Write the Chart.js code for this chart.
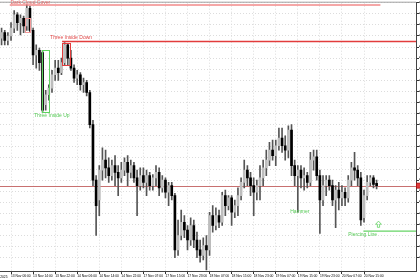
<!DOCTYPE html>
<html><head><meta charset="utf-8">
<style>html,body{margin:0;padding:0;background:#fff;overflow:hidden;width:420px;height:280px}canvas{display:block}</style>
<script src="https://cdn.jsdelivr.net/npm/chart.js@4.4.1/dist/chart.umd.min.js"></script>
</head><body>
<canvas id="c" width="460" height="280" style="width:460px;height:280px"></canvas>
<script>
const openPrices = [4218,4223,4216,4220,4227,4239,4232,4236,4229,4245,
4225,4203,4207,4205,4158,4167,4173,4185,4191,4187,
4196,4212,4200,4191,4182,4185,4176,4178,4169,4140,
4090,4072,4099,4108,4101,4094,4103,4097,4092,4099,
4106,4097,4103,4092,4085,4094,4088,4094,4085,4092,
4097,4083,4090,4079,4085,4076,4027,4040,4052,4045,
4036,4049,4036,4027,4022,4031,4027,4058,4049,4058,
4052,4076,4067,4074,4061,4067,4076,4088,4099,4092,
4085,4079,4085,4092,4101,4108,4117,4112,4121,4128,
4121,4117,4135,4103,4094,4099,4092,4094,4088,4108,
4111,4094,4072,4085,4090,4085,4072,4081,4074,4079,
4074,4090,4101,4099,4092,4056,4076,4088,4092,4087];
const highPrices = [4227,4225,4223,4232,4243,4241,4239,4238,4248,4247,
4227,4212,4209,4207,4171,4176,4189,4198,4198,4200,
4214,4213,4207,4194,4189,4187,4182,4180,4171,4144,
4094,4103,4119,4117,4110,4108,4112,4103,4106,4110,
4112,4108,4106,4099,4101,4101,4099,4097,4095,4103,
4101,4094,4092,4088,4088,4078,4054,4063,4058,4049,
4056,4054,4043,4036,4038,4040,4061,4067,4065,4063,
4079,4081,4076,4076,4072,4083,4092,4108,4103,4097,
4092,4090,4103,4108,4117,4124,4126,4126,4137,4137,
4130,4139,4140,4108,4103,4103,4101,4097,4115,4117,
4117,4099,4094,4094,4094,4090,4085,4088,4085,4083,
4094,4106,4115,4103,4097,4081,4094,4094,4094,4090];
const lowPrices = [4212,4212,4212,4216,4223,4225,4221,4223,4225,4223,
4194,4191,4189,4151,4153,4162,4169,4180,4180,4185,
4194,4194,4189,4178,4176,4171,4169,4166,4137,4085,
4040,4058,4090,4092,4088,4090,4085,4076,4088,4094,
4085,4092,4088,4058,4081,4083,4076,4081,4081,4085,
4076,4079,4074,4067,4072,4020,4022,4036,4038,4027,
4031,4029,4020,4016,4018,4009,4022,4043,4045,4047,
4049,4058,4063,4049,4056,4058,4072,4083,4085,4076,
4058,4072,4072,4085,4094,4103,4108,4103,4117,4115,
4108,4110,4094,4085,4061,4083,4081,4083,4085,4099,
4090,4042,4067,4076,4081,4067,4047,4063,4067,4067,
4070,4085,4090,4085,4049,4052,4072,4085,4083,4082];
const closePrices = [4223,4216,4220,4227,4239,4232,4236,4229,4245,4225,
4203,4207,4196,4153,4167,4173,4185,4191,4187,4196,
4212,4200,4191,4182,4185,4176,4178,4169,4140,4090,
4067,4099,4108,4101,4094,4103,4097,4092,4099,4106,
4097,4103,4092,4085,4094,4088,4094,4085,4092,4097,
4083,4090,4079,4085,4076,4027,4040,4052,4045,4036,
4049,4036,4027,4022,4031,4027,4058,4049,4058,4052,
4076,4067,4074,4061,4067,4076,4088,4099,4092,4085,
4079,4085,4092,4101,4108,4117,4112,4121,4128,4121,
4117,4135,4103,4094,4099,4092,4094,4088,4108,4111,
4094,4072,4085,4090,4085,4072,4081,4074,4079,4074,
4090,4101,4099,4092,4054,4076,4088,4092,4086,4085];
const xTickLabels = ["13 Nov 06:00","13 Nov 14:00","13 Nov 22:00","14 Nov 06:00","14 Nov 14:00","14 Nov 22:00","17 Nov 07:00","17 Nov 15:00","17 Nov 23:00","18 Nov 07:00","18 Nov 15:00","18 Nov 23:00","19 Nov 07:00","19 Nov 15:00","19 Nov 23:00","20 Nov 07:00","20 Nov 15:00"];
const firstAxisLabel = "12 Nov 2025";
const patternNames = ["Dark Cloud Cover","Three Inside Down","Three Inside Up","Hammer","Piercing Line"];
const priceMin = 4008, priceMax = 4250, priceStep = 10;
const currentPrice = 4085;

const slotCount = 132, tickStart = 3, tickEvery = 7;
const categories = Array.from({length: slotCount}, (_, i) => String(i));
const wickData = lowPrices.map((l, i) => [l, highPrices[i]]);
const bodyData = openPrices.map((o, i) => [o, closePrices[i]]);
const bodyColors = openPrices.map((o, i) => closePrices[i] >= o ? '#bdbdbd' : '#000000');

// annotation anchors in data units (category index, price)
const annotations = [
  {kind:'hline', from:2.6, to:120.2, price:4248, color:'rgba(240,120,120,0.65)', width:2},
  {kind:'box', from:7.5, to:9.0, top:4236, bottom:4223, color:'#f29a9a'},
  {kind:'text', text:patternNames[0], at:2.8, price:4252, color:'#e56565'},
  {kind:'hline', from:19.2, to:'end', price:4215, color:'#e23c3c', width:1.5},
  {kind:'box', from:19.2, to:21.8, top:4214, bottom:4194, color:'#e23c3c'},
  {kind:'text', text:patternNames[1], at:15.4, price:4221, color:'#e04848'},
  {kind:'box', from:12.9, to:15.1, top:4207, bottom:4151, color:'#5fd35f'},
  {kind:'text', text:patternNames[2], at:10.3, price:4150.5, color:'#55c955'},
  {kind:'text', text:patternNames[3], at:91.6, price:4064, color:'#55c955'},
  {kind:'hline', from:114.8, to:'end', price:4044, color:'#66d466', width:1.2},
  {kind:'text', text:patternNames[4], at:110, price:4043.5, color:'#55c955'},
  {kind:'arrow', at:119.6, top:4053, bottom:4047.4, color:'#5fd35f'}
];

const drawPlugin = {
  id: 'drawPlugin',
  beforeDatasetsDraw(chart) {
    const {ctx, chartArea: a, scales: {x, y}} = chart;
    ctx.save();
    const py = Math.round(y.getPixelForValue(currentPrice)) + 0.5;
    ctx.strokeStyle = '#c87070'; ctx.lineWidth = 1;
    ctx.beginPath(); ctx.moveTo(a.left, py); ctx.lineTo(a.right, py); ctx.stroke();
    ctx.strokeStyle = '#a0a0a0';
    ctx.beginPath(); ctx.moveTo(a.left, a.top - 0.5); ctx.lineTo(a.right, a.top - 0.5); ctx.stroke();
    ctx.restore();
  },
  afterDatasetsDraw(chart) {
    const {ctx, chartArea: a, scales: {x, y}} = chart;
    ctx.save();
    ctx.font = '5px "Liberation Sans", Arial, sans-serif';
    ctx.textBaseline = 'top'; ctx.textAlign = 'left';
    for (const an of annotations) {
      if (an.kind === 'hline') {
        const x0 = x.getPixelForValue(an.from);
        const x1 = an.to === 'end' ? a.right : x.getPixelForValue(an.to);
        const yy = y.getPixelForValue(an.price);
        ctx.strokeStyle = an.color; ctx.lineWidth = an.width;
        ctx.beginPath(); ctx.moveTo(x0, yy); ctx.lineTo(x1, yy); ctx.stroke();
      } else if (an.kind === 'box') {
        const x0 = x.getPixelForValue(an.from), x1 = x.getPixelForValue(an.to);
        const y0 = y.getPixelForValue(an.top), y1 = y.getPixelForValue(an.bottom);
        ctx.strokeStyle = an.color; ctx.lineWidth = 1;
        ctx.strokeRect(Math.round(x0) + 0.5, Math.round(y0) + 0.5, Math.round(x1 - x0), Math.round(y1 - y0));
      } else if (an.kind === 'text') {
        ctx.fillStyle = an.color;
        ctx.fillText(an.text, x.getPixelForValue(an.at), y.getPixelForValue(an.price));
      } else if (an.kind === 'arrow') {
        const cx = x.getPixelForValue(an.at);
        const t = y.getPixelForValue(an.top), b = y.getPixelForValue(an.bottom);
        const hh = (b - t) * 0.5;
        ctx.strokeStyle = an.color; ctx.lineWidth = 0.8;
        ctx.beginPath();
        ctx.moveTo(cx, t); ctx.lineTo(cx + 2.8, t + hh); ctx.lineTo(cx + 1.1, t + hh);
        ctx.lineTo(cx + 1.1, b); ctx.lineTo(cx - 1.1, b); ctx.lineTo(cx - 1.1, t + hh);
        ctx.lineTo(cx - 2.8, t + hh); ctx.closePath(); ctx.stroke();
      }
    }
    const py = y.getPixelForValue(currentPrice);
    ctx.fillStyle = '#e03a3a'; ctx.strokeStyle = '#a01010'; ctx.lineWidth = 0.8;
    ctx.fillRect(a.right, py - 2.5, 6, 5); ctx.strokeRect(a.right + 0.5, py - 2.5, 5, 5);
    ctx.fillStyle = '#000'; ctx.font = '3.3px "Liberation Sans", Arial, sans-serif';
    ctx.textAlign = 'right'; ctx.textBaseline = 'top';
    ctx.fillText(firstAxisLabel, 7.5, a.bottom + 4);
    ctx.restore();
  }
};

new Chart(document.getElementById('c'), {
  type: 'bar',
  data: {
    labels: categories,
    datasets: [
      {label:'wick', data: wickData, backgroundColor:'#555555', barThickness:1, grouped:false, order:2},
      {label:'body', data: bodyData, backgroundColor: bodyColors, barThickness:2, grouped:false, order:1}
    ]
  },
  options: {
    responsive:false, animation:false, devicePixelRatio:1,
    layout:{padding:{left:0, right:0, top:2, bottom:0}},
    plugins:{legend:{display:false}, tooltip:{enabled:false}},
    scales:{
      x:{
        type:'category', offset:true,
        grid:{offset:false, color:'#dcdcdc', tickColor:'#333', tickLength:3, drawOnChartArea:true},
        border:{display:true, color:'#444', dash:[1,2]},
        ticks:{autoSkip:false, maxRotation:0, minRotation:0, align:'start', padding:0,
          font:{size:3.3, family:'"Liberation Sans", Arial, sans-serif'}, color:'#000',
          callback:(v) => xTickLabels[(v - tickStart) / tickEvery] ?? ''},
        afterBuildTicks:(s) => { s.ticks = s.ticks.filter(t => t.value >= tickStart && (t.value - tickStart) % tickEvery === 0 && (t.value - tickStart) / tickEvery < xTickLabels.length); },
        afterFit:(s) => { s.height = 9; }
      },
      y:{
        position:'right', min:priceMin, max:priceMax,
        grid:{color:'#dcdcdc', tickColor:'#333', tickLength:3},
        border:{display:true, color:'#444', dash:[1,2]},
        ticks:{stepSize:priceStep, padding:0, font:{size:4.5, family:'"Liberation Sans", Arial, sans-serif'}, color:'#000',
          callback:(v) => v.toFixed(2)},
        afterBuildTicks:(s) => { s.ticks = s.ticks.filter(t => t.value % priceStep === 0); },
        afterFit:(s) => { s.width = 44; }
      }
    }
  },
  plugins:[drawPlugin]
});
</script>
</body></html>
